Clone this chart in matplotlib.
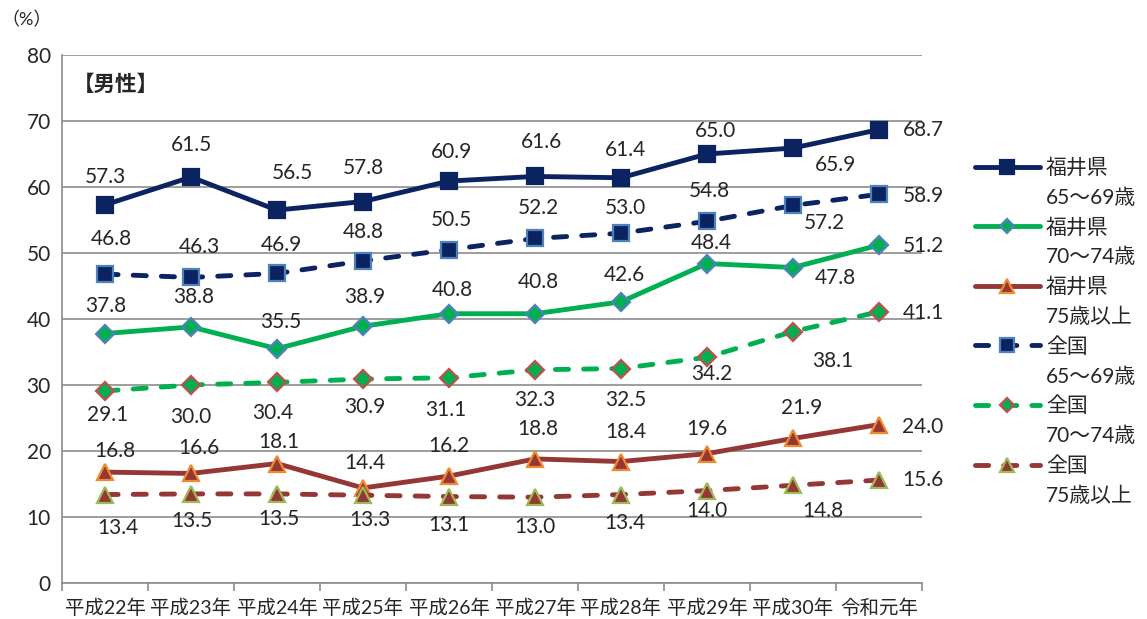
import matplotlib.pyplot as plt
from matplotlib.lines import Line2D
import numpy as np

plt.rcParams['font.family'] = ['Lato', 'Noto Sans CJK JP']

# data
years = ['平成22年', '平成23年', '平成24年', '平成25年', '平成26年',
         '平成27年', '平成28年', '平成29年', '平成30年', '令和元年']
fukui_65_69 = [57.3, 61.5, 56.5, 57.8, 60.9, 61.6, 61.4, 65.0, 65.9, 68.7]
fukui_70_74 = [37.8, 38.8, 35.5, 38.9, 40.8, 40.8, 42.6, 48.4, 47.8, 51.2]
fukui_75 = [16.8, 16.6, 18.1, 14.4, 16.2, 18.8, 18.4, 19.6, 21.9, 24.0]
zenkoku_65_69 = [46.8, 46.3, 46.9, 48.8, 50.5, 52.2, 53.0, 54.8, 57.2, 58.9]
zenkoku_70_74 = [29.1, 30.0, 30.4, 30.9, 31.1, 32.3, 32.5, 34.2, 38.1, 41.1]
zenkoku_75 = [13.4, 13.5, 13.5, 13.3, 13.1, 13.0, 13.4, 14.0, 14.8, 15.6]
legend_names = [('福井県', '65～69歳'), ('福井県', '70～74歳'), ('福井県', '75歳以上'),
                ('全国', '65～69歳'), ('全国', '70～74歳'), ('全国', '75歳以上')]

navy = '#0b2361'
green = '#00b050'
red = '#953735'

# style: color, dashed, marker, marker size, edge color
styles = [
    (navy, False, 's', 12, navy),
    (green, False, 'D', 9.5, '#4f81bd'),
    (red, False, '^', 12, '#f08a30'),
    (navy, True, 's', 12, '#4f81bd'),
    (green, True, 'D', 9.5, '#c0504d'),
    (red, True, '^', 12, '#9bbb59'),
]

# label offsets in pixels (dx right, dy down)
offsets = [
    [(0, -28), (0, -32), (15, -37), (0, -34), (2, -29), (6, -34), (5, -28), (9, -23), (42, 17), (44, 0)],
    [(1, -28), (3, -30), (4, -27), (2, -29), (3, -24), (3, -32), (3, -27), (4, -21), (42, 10), (44, 1)],
    [(10, -21), (8, -25), (2, -22), (2, -25), (0, -30), (3, -30), (5, -30), (0, -25), (9, -30), (44, 2)],
    [(6, -35), (8, -30), (4, -28), (0, -29), (2, -30), (3, -30), (4, -25), (2, -30), (31, 18), (44, 2)],
    [(3, 24), (0, 32), (-4, 31), (2, 28), (-3, 32), (0, 30), (5, 32), (5, 17), (40, 29), (44, 1)],
    [(13, 33), (1, 27), (2, 25), (7, 25), (0, 28), (0, 30), (4, 28), (0, 20), (30, 26), (44, 0)],
]

series = [fukui_65_69, fukui_70_74, fukui_75, zenkoku_65_69, zenkoku_70_74, zenkoku_75]

fig = plt.figure(figsize=(11.47, 6.19), dpi=100)
ax = fig.add_axes([62 / 1147, 1 - 583 / 619, 860 / 1147, 528 / 619])

x = np.arange(len(years))
lines = []
for vals, st, offs in zip(series, styles, offsets):
    color, dashed, mk, ms, ec = st
    ln, = ax.plot(x, vals, color=color, lw=3.5, marker=mk, markersize=ms,
                  markerfacecolor=color, markeredgecolor=ec, markeredgewidth=1.6,
                  solid_capstyle='round', dash_capstyle='round', clip_on=False)
    if dashed:
        ln.set_dashes((2.7, 3.1))
    lines.append(ln)
    for xi, v, (dx, dy) in zip(x, vals, offs):
        ax.annotate(f'{v:.1f}', (xi, v), xytext=(dx, -dy), textcoords='offset pixels',
                    ha='center', va='center', fontsize=15, color='#262626')

ax.set_xlim(-0.5, 9.5)
ax.set_ylim(0, 80)
ax.set_yticks(range(0, 81, 10))
ax.yaxis.grid(True, color='#8c8c8c', lw=1.2)
ax.set_axisbelow(True)
ax.tick_params(axis='y', length=0, pad=8, labelsize=15, labelcolor='#262626')
ax.set_xticks(x)
ax.set_xticklabels(years)
ax.set_xticks(np.arange(-0.5, 10, 1), minor=True)
ax.tick_params(axis='x', which='major', length=0, pad=11, labelsize=14, labelcolor='#262626')
ax.tick_params(axis='x', which='minor', length=6, width=1.2, color='#8c8c8c')
for s in ['top', 'right']:
    ax.spines[s].set_visible(False)
for s in ['left', 'bottom']:
    ax.spines[s].set_color('#8c8c8c')
    ax.spines[s].set_linewidth(1.2)

ax.text(11 / 860, 1 - 29 / 528, '【男性】', transform=ax.transAxes, ha='left', va='center',
        fontsize=15.5, fontweight='bold', color='#262626')
fig.text(1 / 1147, 1 - 20 / 619, '（%）', ha='left', va='center', fontsize=13, color='#262626')

# legend: two rows per series, the second without a handle
blank = Line2D([], [], linestyle='none')
handles, labels = [], []
for ln, (l1, l2) in zip(lines, legend_names):
    handles += [ln, blank]
    labels += [l1, l2]
leg = fig.legend(handles, labels, loc='upper left', bbox_to_anchor=(975 / 1147, 1 - 158 / 619),
                 frameon=False, fontsize=15, handlelength=3.1, handletextpad=0.3,
                 borderpad=0, borderaxespad=0, labelspacing=0.47, markerscale=0.8)
for t in leg.get_texts():
    t.set_color('#262626')

fig.savefig('out.png', dpi=100)
